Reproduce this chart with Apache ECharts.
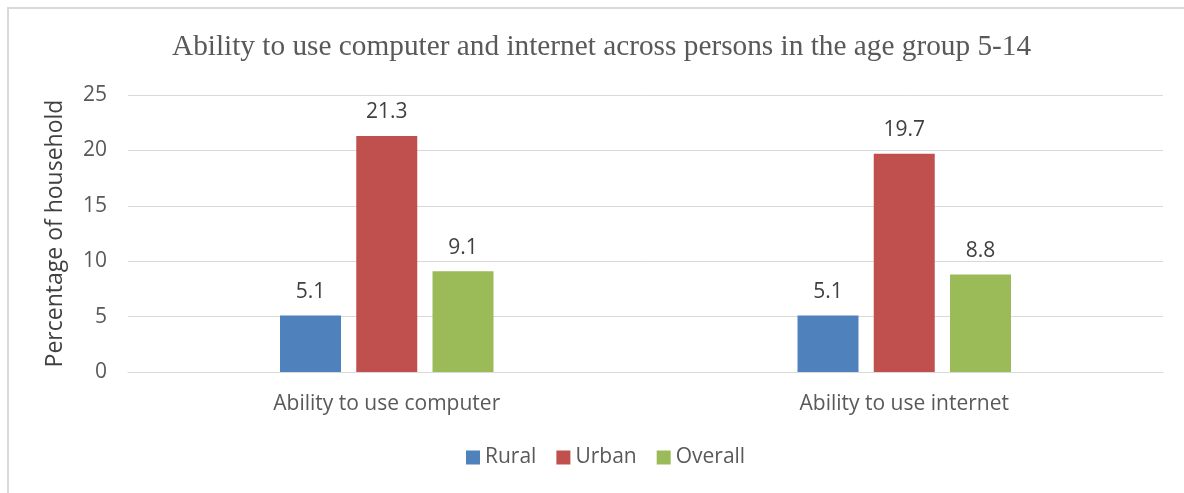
<!DOCTYPE html>
<html>
<head>
<meta charset="utf-8">
<script src="https://cdn.jsdelivr.net/npm/echarts@6/dist/echarts.min.js"></script>
<style>
html,body{margin:0;padding:0;background:#fff;}
#frame{position:absolute;left:7px;top:7px;width:1190px;height:500px;border:2px solid #d9d9d9;box-sizing:border-box;}
#chart{position:absolute;left:0;top:0;width:1184px;height:493px;}
</style>
</head>
<body>
<div id="frame"></div>
<div id="chart"></div>
<script>
const titleText = 'Ability to use computer and internet across persons in the age group 5-14';
const categories = ['Ability to use computer', 'Ability to use internet'];
const seriesNames = ['Rural', 'Urban', 'Overall'];
const rural = [5.1, 5.1];
const urban = [21.3, 19.7];
const overall = [9.1, 8.8];
const yTicks = [0, 5, 10, 15, 20, 25];
const colors = ['#4F81BD', '#C0504D', '#9BBB59'];
const values = [rural, urban, overall];

const font = '"Open Sans", Lato, sans-serif';
const chart = echarts.init(document.getElementById('chart'), null, {renderer: 'canvas'});
chart.setOption({
  animation: false,
  title: {
    text: titleText, left: 167, top: 28,
    textStyle: {fontFamily: '"Liberation Serif", "Times New Roman", serif', fontSize: 29.3, fontWeight: 'normal', color: '#595959'}
  },
  legend: {
    data: seriesNames, bottom: 20, left: 461, itemWidth: 14, itemHeight: 14, itemGap: 20,
    icon: 'rect',
    textStyle: {fontFamily: font, fontSize: 21, color: '#595959'}
  },
  grid: {left: 128, right: 21, top: 95, bottom: 121, containLabel: false},
  xAxis: {
    type: 'category', data: categories,
    axisLine: {lineStyle: {color: '#d9d9d9', width: 1}},
    axisTick: {show: false},
    axisLabel: {fontFamily: font, fontSize: 21, color: '#595959', margin: 22}
  },
  yAxis: {
    type: 'value', min: yTicks[0], max: yTicks[yTicks.length - 1], interval: 5,
    name: 'Percentage of household', nameLocation: 'middle', nameGap: 61,
    nameTextStyle: {fontFamily: font, fontSize: 23, color: '#404040'},
    axisLine: {show: false}, axisTick: {show: false},
    axisLabel: {fontFamily: font, fontSize: 21, color: '#595959', margin: 21},
    splitLine: {lineStyle: {color: '#d9d9d9', width: 1}}
  },
  series: seriesNames.map((n, i) => ({
    name: n, type: 'bar', data: values[i],
    barWidth: 61, barGap: '25%',
    itemStyle: {color: colors[i]},
    label: {show: true, position: 'top', distance: 13, fontFamily: font, fontSize: 21, color: '#404040'}
  }))
});
</script>
</body>
</html>
